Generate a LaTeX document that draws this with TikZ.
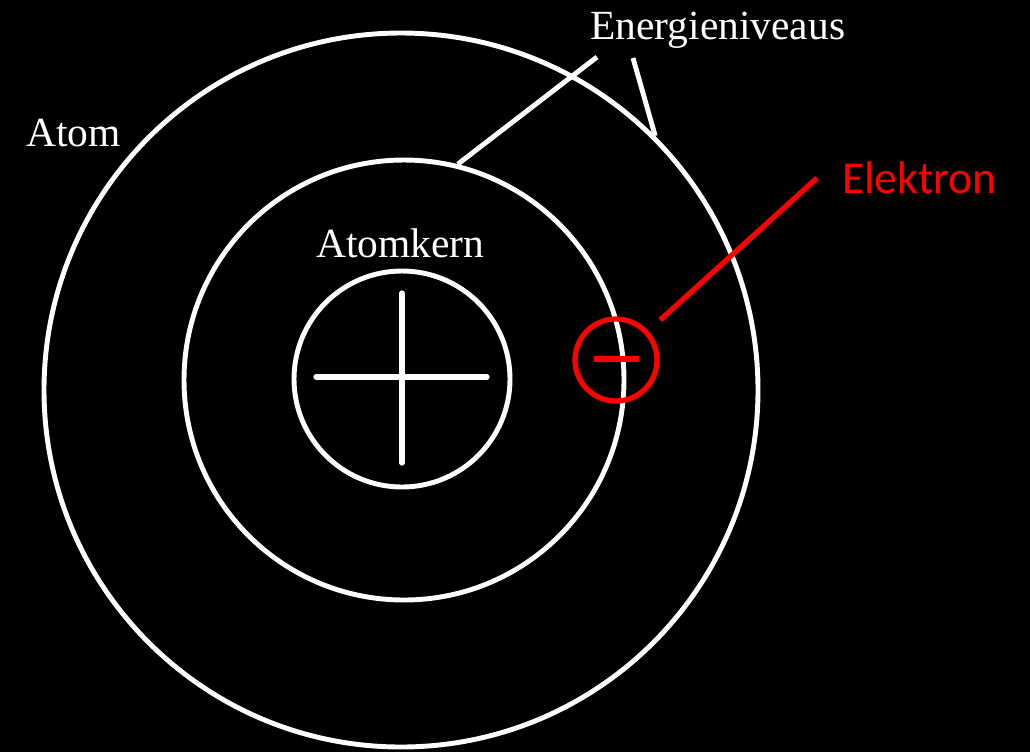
\documentclass[tikz,border=0pt]{standalone}
\usepackage{fontspec}
\setmainfont{Liberation Serif}
\newfontfamily\elfont{Carlito}
\usetikzlibrary{positioning}
\tikzset{
  shell/.style={draw=white, circle, line width=1.4pt, inner sep=0pt, minimum size=#1},
  leader/.style={white, line width=1.4pt},
  tag/.style={white, inner sep=1pt, font=\fontsize{11.8}{14}\selectfont}
}
\begin{document}
\begin{tikzpicture}[x=0.1mm,y=-0.1mm]
  \useasboundingbox (0,0) rectangle (1030,752);
  \fill[black] (0,0) rectangle (1030,752);
  % Schalen und Kern
  \node[shell=71.4mm] (atom) at (401,390) {};
  \node[shell=44mm] (niveau) at (404,380) {};
  \node[shell=21.6mm] (kern) at (402,379) {};
  \draw[leader, line width=1.5pt, line cap=round] (402,293) -- (402,463) (316,377) -- (487,377);
  % Elektron
  \node[draw=red, circle, line width=1.5pt, inner sep=0pt, minimum size=8.2mm] (el) at (616,360) {};
  \draw[red, line width=1.9pt] (594,359) -- (639,359);
  % Beschriftungen
  \node[tag, anchor=base west] (atomtxt) at (22,146) {Atom};
  \node[tag, anchor=base west] (kerntxt) at (312,257) {Atomkern};
  \node[tag, anchor=base west] (energie) at (586,39) {Energieniveaus};
  \node[red, inner sep=1pt, anchor=base west, font=\elfont\fontsize{13}{15}\selectfont] (elektron) at (838,193) {Elektron};
  \coordinate (niv1) at (597,57);
  \coordinate (niv2) at (633,58);
  \coordinate (elk) at (817,178);
  \draw[leader] (niv1) -- (niveau.76.8);
  \draw[leader] (niv2) -- (atom.45.6);
  \draw[red, line width=1.5pt, shorten <=1.6mm] (el) -- (elk);
\end{tikzpicture}
\end{document}
